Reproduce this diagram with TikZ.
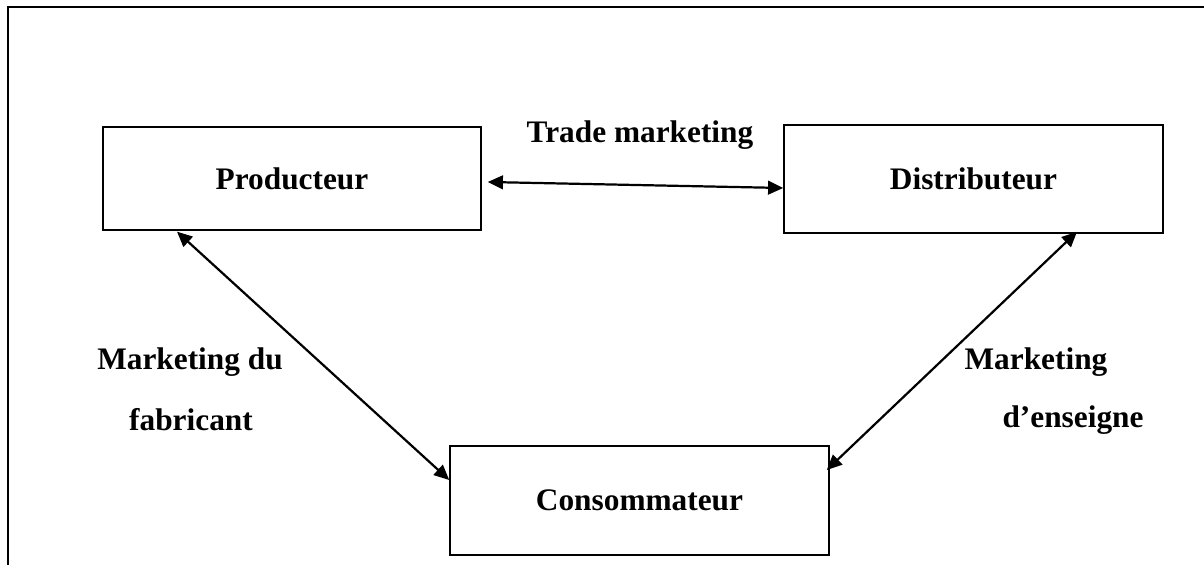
\documentclass[tikz,border=0pt]{standalone}
\usepackage{fontspec}
\setmainfont{Liberation Serif}
\usepackage{xcolor}
\usetikzlibrary{arrows.meta, positioning, calc}
\definecolor{linecol}{HTML}{000000}
\tikzset{
    actorbox/.style={rectangle, draw=linecol, line width=0.55pt, minimum width=#1, minimum height=41pt, inner sep=0pt, font=\bfseries\fontsize{12}{14}\selectfont},
    flowlabel/.style={font=\bfseries\fontsize{12}{14}\selectfont, inner sep=0pt},
    myarrow/.style={{Triangle[length=5.8pt, width=5.2pt]}-{Triangle[length=5.8pt, width=5.2pt]}, linecol, line width=0.85pt},
    framebox/.style={linecol, line width=0.9pt},
}
\begin{document}
\begin{tikzpicture}[x=0.383pt, y=-0.383pt]
\useasboundingbox (0,0) rectangle (1204,565);
\draw[framebox] (8,565) -- (8,7) -- (1204,7);
% actors
\node[actorbox=144.8pt, minimum height=39.4pt] (prod) at (292,178.5) {Producteur};
\node[actorbox=145.2pt, minimum height=41.4pt] (dist) at (973.5,179) {Distributeur};
\node[actorbox=145.2pt, minimum height=41.7pt] (cons) at (639.5,500.5) {Consommateur};
% labels
\node[flowlabel] (trade) at (640,135) {Trade marketing};
\node[flowlabel] (fab1) at (190,362) {Marketing du};
\node[flowlabel] (fab2) at (191,420) {fabricant};
\node[flowlabel] (ens1) at (1036,362) {Marketing};
\node[flowlabel] (ens2) at (1073,420) {d’enseigne};
% links
\draw[myarrow] ($(prod.east)+(6,3.5)$) -- ($(dist.west)+(0,9)$);
\draw[myarrow] ($(prod.south)+(-115,1)$) -- ($(cons.west)+(0,-20.5)$);
\draw[myarrow] ($(dist.south)+(103.5,-2)$) -- ($(cons.east)+(-3,-30.5)$);
\end{tikzpicture}
\end{document}
